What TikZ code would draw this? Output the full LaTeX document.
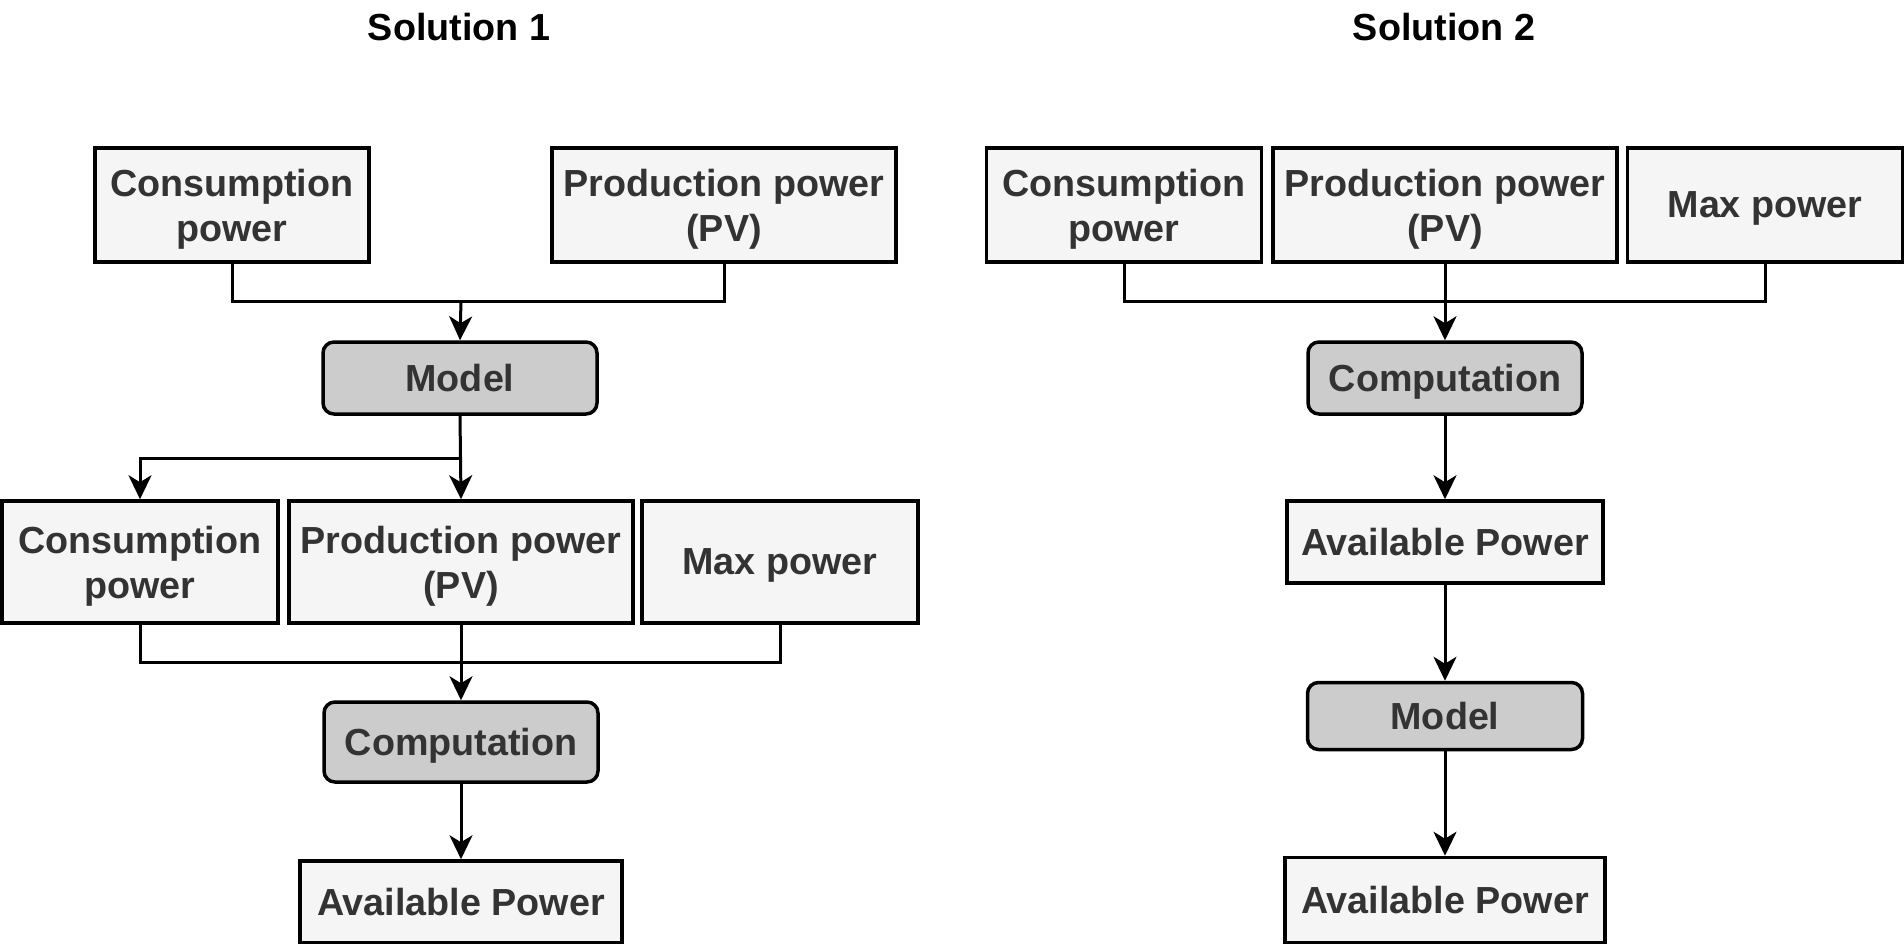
\documentclass[tikz,border=0pt]{standalone}
\usepackage{fontspec}
\setmainfont{Liberation Sans}
\usetikzlibrary{arrows.meta}
\definecolor{boxfill}{HTML}{F5F5F5}
\definecolor{procfill}{HTML}{CCCCCC}
\definecolor{boxtext}{HTML}{333333}
\tikzset{
  databox/.style={draw=black, line width=3.5pt, fill=boxfill, text=boxtext,
    inner sep=0pt, align=center, text depth=0pt,
    font=\fontsize{37.7}{45.2}\selectfont\bfseries},
  procbox/.style={databox, fill=procfill, rounded corners=11pt},
  titletext/.style={text=black, font=\fontsize{37.7}{45.2}\selectfont\bfseries},
  link/.style={line width=3pt, draw=black},
  arrow/.style={link, -{Stealth[length=24pt, width=23pt, inset=7pt]}}
}
\begin{document}
\begin{tikzpicture}[x=1pt,y=-1pt]
                \useasboundingbox (0,0) rectangle (1904,944);

                % 見出し
                \node[titletext] (title1) at (459,27) {Solution 1};
                \node[titletext] (title2) at (1444,27) {Solution 2};

                % Solution 1: 入力
                \node[databox, minimum width=274pt, minimum height=114pt] (cons1) at (232,205) {Consumption\\power};
                \node[databox, minimum width=344pt, minimum height=114pt] (prod1) at (724,205) {Production power\\(PV)};
                \node[procbox, minimum width=274pt, minimum height=72pt] (model1) at (460,378) {Model};

                % Solution 1: モデルの出力
                \node[databox, minimum width=276pt, minimum height=122pt] (cons2) at (140,562) {Consumption\\power};
                \node[databox, minimum width=344pt, minimum height=122pt] (prod2) at (461,562) {Production power\\(PV)};
                \node[databox, minimum width=276pt, minimum height=122pt] (max2) at (780,562) {Max power};
                \node[procbox, minimum width=274pt, minimum height=80pt] (comp1) at (461,742) {Computation};
                \node[databox, minimum width=322pt, minimum height=82pt] (avail1) at (461,902) {Available Power};

                % Solution 1: 接続線
                \coordinate (j1) at (461,301);
                \draw[link] (cons1.south) |- (j1);
                \draw[link] (prod1.south) |- (j1);
                \draw[arrow] (j1) -- (model1.north);
                \coordinate (j2) at (461,458);
                \draw[arrow] (model1.south) -- (prod2.north);
                \draw[arrow] (j2) -| (cons2.north);
                \coordinate (j3) at (461,662);
                \draw[link] (cons2.south) |- (j3);
                \draw[link] (max2.south) |- (j3);
                \draw[arrow] (prod2.south) -- (comp1.north);
                \draw[arrow] (comp1.south) -- (avail1.north);

                % Solution 2: ノード
                \node[databox, minimum width=275pt, minimum height=114pt] (cons3) at (1124,205) {Consumption\\power};
                \node[databox, minimum width=344pt, minimum height=114pt] (prod3) at (1445,205) {Production power\\(PV)};
                \node[databox, minimum width=275pt, minimum height=114pt] (max3) at (1765,205) {Max power};
                \node[procbox, minimum width=274pt, minimum height=72pt] (comp2) at (1445,378) {Computation};
                \node[databox, minimum width=316pt, minimum height=82pt] (avail2) at (1445,542) {Available Power};
                \node[procbox, minimum width=275pt, minimum height=67pt] (model2) at (1445,716) {Model};
                \node[databox, minimum width=320pt, minimum height=85pt] (avail3) at (1445,900) {Available Power};

                % Solution 2: 接続線
                \coordinate (j4) at (1445,301);
                \draw[link] (cons3.south) |- (j4);
                \draw[link] (max3.south) |- (j4);
                \draw[arrow] (prod3.south) -- (comp2.north);
                \draw[arrow] (comp2.south) -- (avail2.north);
                \draw[arrow] (avail2.south) -- (model2.north);
                \draw[arrow] (model2.south) -- (avail3.north);
            \end{tikzpicture}
\end{document}
